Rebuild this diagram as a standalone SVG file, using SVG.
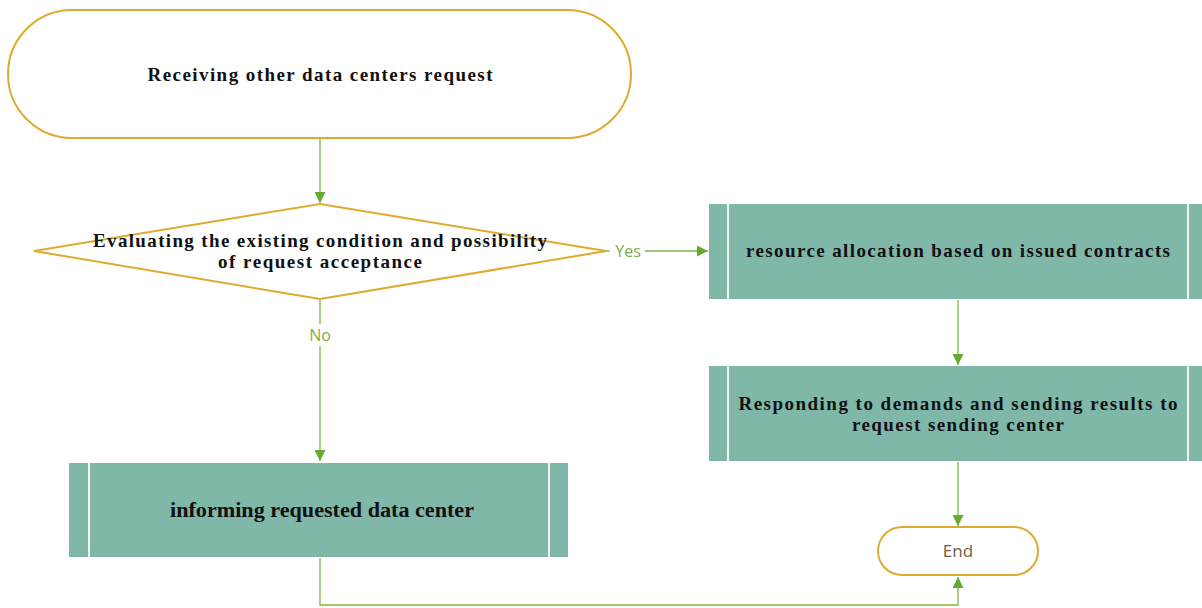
<svg xmlns="http://www.w3.org/2000/svg" width="1202" height="608" viewBox="0 0 1202 608">
  <style>
    .term { fill: #ffffff; stroke: #deab2f; stroke-width: 2; }
    .dec { fill: #ffffff; stroke: #deab2f; stroke-width: 2; }
    .proc { fill: #7fb7a9; }
    .bar { stroke: #eef5f3; stroke-width: 2; }
    .lbl { font-family: "Liberation Serif", "Times New Roman", serif; font-weight: bold; font-size: 19px; fill: #111111; text-anchor: middle; }
    .edge { fill: none; stroke: #7ab648; stroke-width: 1.3; }
    .elbl { font-family: "Open Sans", "Noto Sans", sans-serif; font-size: 16px; fill: #7aac4a; text-anchor: middle; }
    .endt { font-family: "Open Sans", "Noto Sans", sans-serif; font-size: 17px; fill: #6e5e45; text-anchor: middle; }
  </style>
  <defs>
    <marker id="arrow" viewBox="0 0 10 10" refX="10" refY="5" markerWidth="11" markerHeight="11" markerUnits="userSpaceOnUse" orient="auto">
      <path d="M0,0 L10,5 L0,10 z" fill="#66aa33"/>
    </marker>
  </defs>

  <rect width="1202" height="608" fill="#ffffff"/>

  <!-- connectors -->
  <g id="connectors">
    <path class="edge" d="M320,139 V203" marker-end="url(#arrow)"/>
    <path class="edge" d="M606,251 H610"/>
    <path class="edge" d="M645,251 H708" marker-end="url(#arrow)"/>
    <text class="elbl" x="628" y="257">Yes</text>
    <path class="edge" d="M320,300 V324"/>
    <path class="edge" d="M320,346 V461" marker-end="url(#arrow)"/>
    <text class="elbl" x="320" y="341">No</text>
    <path class="edge" d="M958,300 V365" marker-end="url(#arrow)"/>
    <path class="edge" d="M958,462 V526" marker-end="url(#arrow)"/>
    <path class="edge" d="M320,558 V605 H958 V577" marker-end="url(#arrow)"/>
  </g>

  <!-- start terminator -->
  <g id="start">
    <rect class="term" x="8" y="10" width="623" height="128" rx="64" ry="64"/>
    <text class="lbl" x="320" y="81" textLength="345" lengthAdjust="spacing">Receiving other data centers request</text>
  </g>

  <!-- decision -->
  <g id="decision">
    <polygon class="dec" points="320,204 606,251 320,299 34,251"/>
    <text class="lbl" x="320" y="247" textLength="454" lengthAdjust="spacing">Evaluating the existing condition and possibility</text>
    <text class="lbl" x="320" y="268" textLength="204" lengthAdjust="spacing">of request acceptance</text>
  </g>

  <!-- resource allocation -->
  <g id="allocate">
    <rect class="proc" x="709" y="204" width="500" height="95"/>
    <line class="bar" x1="728" y1="204" x2="728" y2="299"/>
    <line class="bar" x1="1188" y1="204" x2="1188" y2="299"/>
    <text class="lbl" x="958" y="257" textLength="424" lengthAdjust="spacing">resource allocation based on issued contracts</text>
  </g>

  <!-- respond -->
  <g id="respond">
    <rect class="proc" x="709" y="366" width="500" height="95"/>
    <line class="bar" x1="728" y1="366" x2="728" y2="461"/>
    <line class="bar" x1="1188" y1="366" x2="1188" y2="461"/>
    <text class="lbl" x="958" y="410" textLength="439" lengthAdjust="spacing">Responding to demands and sending results to</text>
    <text class="lbl" x="958" y="431" textLength="212" lengthAdjust="spacing">request sending center</text>
  </g>

  <!-- inform -->
  <g id="inform">
    <rect class="proc" x="69" y="463" width="499" height="94"/>
    <line class="bar" x1="89" y1="463" x2="89" y2="557"/>
    <line class="bar" x1="549" y1="463" x2="549" y2="557"/>
    <text class="lbl" x="322" y="517" style="font-size:20px" textLength="304" lengthAdjust="spacingAndGlyphs">informing requested data center</text>
  </g>

  <!-- end terminator -->
  <g id="end">
    <rect class="term" x="878" y="527" width="160" height="48" rx="24" ry="24"/>
    <text class="endt" x="958" y="557">End</text>
  </g>
</svg>
